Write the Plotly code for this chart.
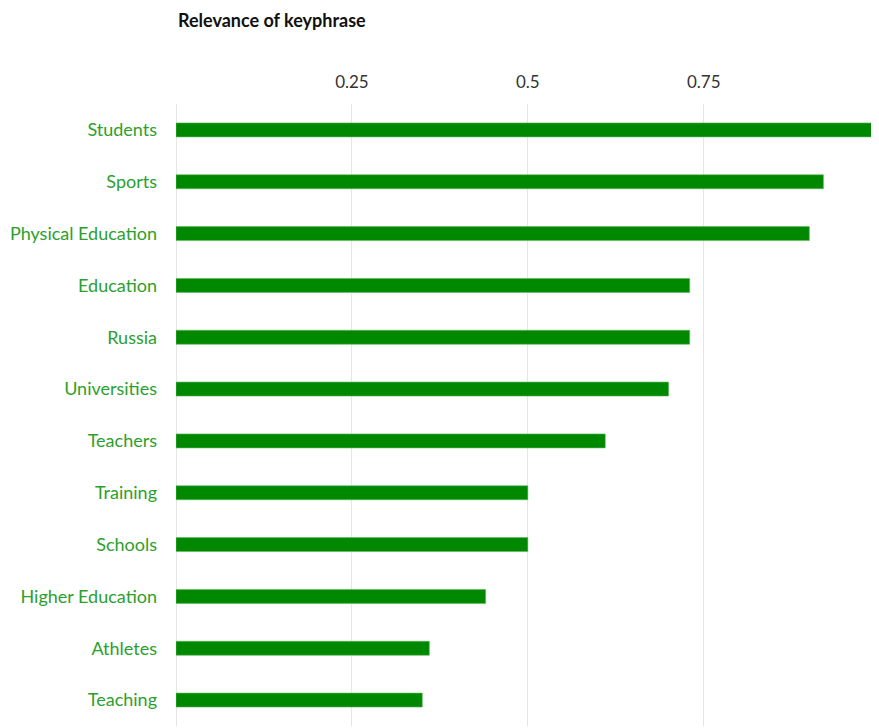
import plotly.graph_objects as go

keyphrases = ["Students", "Sports", "Physical Education", "Education", "Russia",
              "Universities", "Teachers", "Training", "Schools", "Higher Education",
              "Athletes", "Teaching"]
relevance = [1.0, 0.92, 0.90, 0.73, 0.73, 0.70, 0.61, 0.50, 0.50, 0.44, 0.36, 0.35]
tick_vals = [0.25, 0.5, 0.75]
tick_text = ["0.25", "0.5", "0.75"]

fig = go.Figure(go.Bar(
    x=relevance, y=keyphrases, orientation="h",
    marker=dict(color="#008800", line=dict(color="#5cb85c", width=0.6)),
    width=0.27,
))

fig.update_layout(
    width=871, height=720,
    margin=dict(l=168, r=0, t=96, b=2),
    plot_bgcolor="white", paper_bgcolor="white",
    font=dict(family="Lato, 'Open Sans', sans-serif"),
    showlegend=False,
    xaxis=dict(range=[0, 0.999], side="top", tickvals=tick_vals, ticktext=tick_text,
               showgrid=True, gridcolor="#e6e6e6", gridwidth=1,
               zeroline=True, zerolinecolor="#e6e6e6", zerolinewidth=1,
               tickfont=dict(size=17, color="#333333"), ticks="", ticklabelstandoff=12,
               showline=False, fixedrange=True),
    yaxis=dict(categoryorder="array", categoryarray=keyphrases[::-1],
               range=[-0.5, len(keyphrases) - 0.5],
               tickfont=dict(size=18, color="#2ca02c"), ticks="",
               ticklabelstandoff=18, showgrid=False, showline=False, fixedrange=True),
    annotations=[dict(text="<b>Relevance of keyphrase</b>", x=0, y=1, xref="paper", yref="paper",
                      xanchor="left", yanchor="middle", yshift=84, showarrow=False,
                      font=dict(size=18, color="#111111"))],
)

fig.write_html("out.html")
